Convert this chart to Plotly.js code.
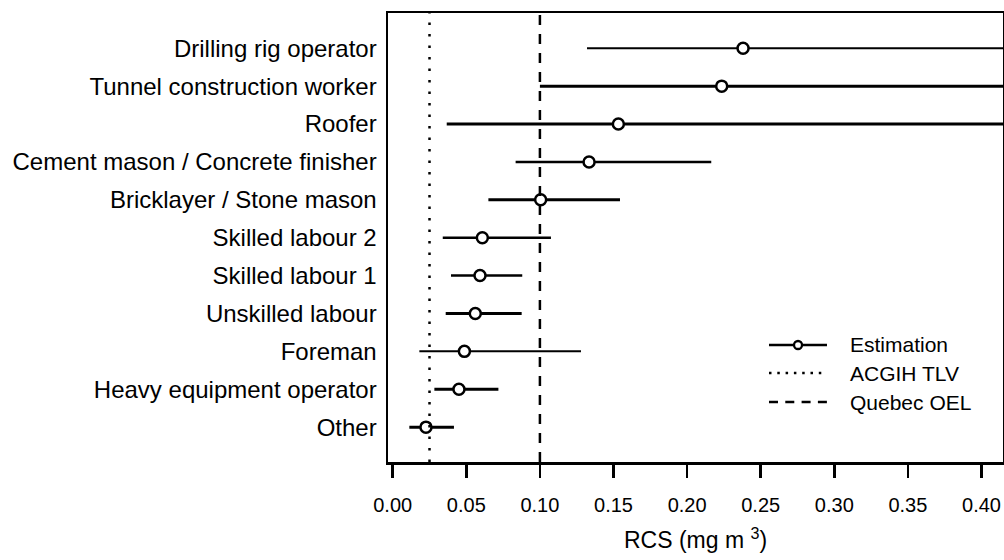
<!DOCTYPE html>
<html>
<head>
<meta charset="utf-8">
<script src="https://cdn.plot.ly/plotly-3.0.1.min.js"></script>
<style>html,body{margin:0;padding:0;background:#fff;}#chart{width:1004px;height:560px;}</style>
</head>
<body>
<div id="chart"></div>
<script>
// Data (top to bottom)
const categories = [
  "Drilling rig operator",
  "Tunnel construction worker",
  "Roofer",
  "Cement mason / Concrete finisher",
  "Bricklayer / Stone mason",
  "Skilled labour 2",
  "Skilled labour 1",
  "Unskilled labour",
  "Foreman",
  "Heavy equipment operator",
  "Other"
];
const estimate = [0.238, 0.2235, 0.1533, 0.1334, 0.1005, 0.0609, 0.0593, 0.0561, 0.0487, 0.045, 0.0226];
const lower    = [0.132, 0.100, 0.0367, 0.0835, 0.065, 0.034, 0.0396, 0.036, 0.0181, 0.0283, 0.0113];
const upper    = [0.45, 0.45, 0.45, 0.2164, 0.1544, 0.1075, 0.088, 0.0876, 0.1279, 0.0718, 0.0416];
const acgihTLV = 0.025;
const quebecOEL = 0.10;
const xTicks = [0, 0.05, 0.10, 0.15, 0.20, 0.25, 0.30, 0.35, 0.40];
const xTickText = ["0.00","0.05","0.10","0.15","0.20","0.25","0.30","0.35","0.40"];
const legendNames = ["Estimation", "ACGIH TLV", "Quebec OEL"];

// Styles
const rowLineWidths = [2, 3, 3, 2.5, 3, 2.5, 2.5, 3, 2, 3, 3];
const FONT = "Liberation Sans, Arial, Helvetica, sans-serif";
const DOT = "2.5px,9px";
const DASH = "10px,9px";

const traces = [];
categories.forEach((c, i) => {
  traces.push({
    type: "scatter", mode: "lines",
    x: [lower[i], upper[i]], y: [c, c],
    line: {color: "black", width: rowLineWidths[i]},
    showlegend: false, hoverinfo: "skip"
  });
});
traces.push({
  type: "scatter", mode: "markers", name: legendNames[0],
  x: estimate, y: categories,
  marker: {symbol: "circle", size: 11, color: "white", line: {color: "black", width: 2.5}},
  showlegend: false
});
traces.push({
  type: "scatter", mode: "lines", name: legendNames[1],
  x: [acgihTLV, acgihTLV], y: [0, 1], yaxis: "y2",
  line: {color: "black", width: 2.5, dash: DOT}, showlegend: false
});
traces.push({
  type: "scatter", mode: "lines", name: legendNames[2],
  x: [quebecOEL, quebecOEL], y: [0, 1], yaxis: "y2",
  line: {color: "black", width: 2.5, dash: DASH}, showlegend: false
});

// Legend drawn in plot-area (paper) coordinates
const legX0 = 0.6195, legX1 = 0.7138, legTextX = 0.748, legMarkX = 0.6667;
const legRowsY = [0.2606, 0.1982, 0.1336];
const legDashes = ["solid", "2.5px,5.8px", "9px,7.3px"];
const shapes = [];
const annotations = [];
legRowsY.forEach((yy, i) => {
  shapes.push({type: "line", xref: "paper", yref: "paper", x0: legX0, x1: legX1, y0: yy, y1: yy,
    line: {color: "black", width: 2.5, dash: legDashes[i]}});
  annotations.push({xref: "paper", yref: "paper", x: legTextX, y: yy, xanchor: "left", yanchor: "middle",
    text: legendNames[i], showarrow: false, font: {size: 21, family: FONT, color: "black"}});
});
shapes.push({type: "circle", xref: "paper", yref: "paper", xsizemode: "pixel", ysizemode: "pixel",
  xanchor: legMarkX, yanchor: legRowsY[0], x0: -4, x1: 4, y0: -4, y1: 4,
  fillcolor: "white", line: {color: "black", width: 2.3}});

const layout = {
  width: 1004, height: 560,
  margin: {l: 388, r: 1, t: 13, b: 98, pad: 0},
  paper_bgcolor: "white", plot_bgcolor: "white",
  font: {family: FONT, color: "black"},
  showlegend: false,
  shapes: shapes,
  annotations: annotations,
  xaxis: {
    range: [-0.0032, 0.4146],
    tickvals: xTicks, ticktext: xTickText,
    ticks: "outside", ticklen: 13, tickwidth: 2.5, tickcolor: "black",
    ticklabelstandoff: 10,
    showline: true, mirror: true, linewidth: 2.5, linecolor: "black",
    showgrid: false, zeroline: false,
    tickfont: {size: 20, family: FONT},
    title: {text: "RCS (mg m <sup>3</sup>)", font: {size: 23, family: FONT}, standoff: 18}
  },
  yaxis: {
    type: "category", categoryarray: categories, categoryorder: "array",
    range: [10.92, -0.93],
    ticks: "outside", ticklen: 4, tickcolor: "rgba(0,0,0,0)",
    showline: true, mirror: true, linewidth: 2.5, linecolor: "black",
    showgrid: false, zeroline: false,
    tickfont: {size: 24, family: FONT}
  },
  yaxis2: {overlaying: "y", range: [0, 1], visible: false, fixedrange: true}
};

Plotly.newPlot("chart", traces, layout, {displayModeBar: false, staticPlot: true});
</script>
</body>
</html>
